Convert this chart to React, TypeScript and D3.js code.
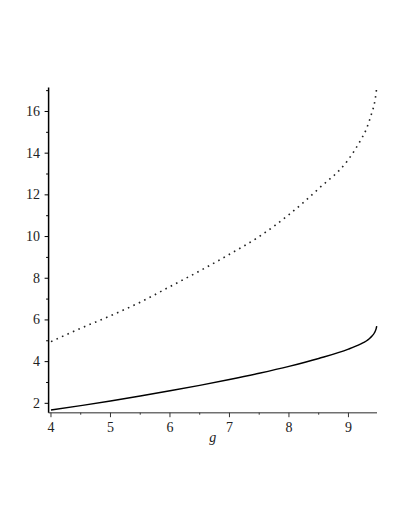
import React from "react";
import * as d3 from "d3";

const gValues = [4, 4.5, 5, 5.5, 6, 6.5, 7, 7.5, 8, 8.5, 9, 9.2, 9.3, 9.35, 9.4, 9.43, 9.45, 9.465, 9.475];
const solidValues = [1.68, 1.89, 2.11, 2.35, 2.6, 2.86, 3.14, 3.44, 3.77, 4.15, 4.6, 4.84, 4.99, 5.1, 5.24, 5.35, 5.46, 5.57, 5.7];
const dottedValues = [4.96, 5.6, 6.2, 6.85, 7.6, 8.35, 9.15, 10.0, 11.05, 12.3, 13.7, 14.6, 15.15, 15.55, 16.0, 16.3, 16.6, 16.9, 17.15];
const xTicks = [4, 5, 6, 7, 8, 9];
const xMinorTicks = [4.5, 5.5, 6.5, 7.5, 8.5];
const yTicks = [2, 4, 6, 8, 10, 12, 14, 16];
const yMinorTicks = [3, 5, 7, 9, 11, 13, 15, 17];
const xLabel = "g";

export default function App() {
  const x = d3.scaleLinear().domain([3.96, 9.48]).range([48.6, 377]);
  const y = d3.scaleLinear().domain([1.55, 17.15]).range([412.7, 87.5]);
  const line = d3
    .line<number>()
    .x((_, i) => x(gValues[i]))
    .y((d) => y(d))
    .curve(d3.curveMonotoneX);
  const font = "'Liberation Serif', 'Times New Roman', serif";
  const x0 = x(3.96);
  const yBase = y(1.55);
  return (
    <svg width={409} height={529} style={{ position: "absolute", left: 0, top: 0, background: "#fff" }}>
      <path d={line(solidValues) || ""} fill="none" stroke="#000" strokeWidth={1.4} />
      <path
        d={line(dottedValues) || ""}
        fill="none"
        stroke="#222"
        strokeWidth={1.6}
        strokeDasharray="1.6 4.4"
      />
      <line x1={x0} x2={x(9.48)} y1={yBase} y2={yBase} stroke="#707070" strokeWidth={1.6} />
      {xTicks.map((t) => (
        <g key={"xt" + t}>
          <line x1={x(t)} x2={x(t)} y1={yBase} y2={yBase + 4.5} stroke="#333" strokeWidth={1} />
          <text x={x(t)} y={432} textAnchor="middle" fontFamily={font} fontSize={14} fill="#222">
            {t}
          </text>
        </g>
      ))}
      {xMinorTicks.map((t) => (
        <line key={"xm" + t} x1={x(t)} x2={x(t)} y1={yBase} y2={yBase + 2} stroke="#333" strokeWidth={1} />
      ))}
      <text x={(x0 + x(9.48)) / 2} y={442} textAnchor="middle" fontFamily={font} fontStyle="italic" fontSize={14} fill="#222">
        {xLabel}
      </text>
      <line x1={x0} x2={x0} y1={y(17.15)} y2={yBase} stroke="#000" strokeWidth={1.5} />
      {yTicks.map((t) => (
        <g key={"yt" + t}>
          <line x1={x0 - 4} x2={x0} y1={y(t)} y2={y(t)} stroke="#000" strokeWidth={1} />
          <text x={40} y={y(t) + 4.5} textAnchor="end" fontFamily={font} fontSize={14} fill="#222">
            {t}
          </text>
        </g>
      ))}
      {yMinorTicks.map((t) => (
        <line key={"ym" + t} x1={x0 - 2.5} x2={x0} y1={y(t)} y2={y(t)} stroke="#000" strokeWidth={1} />
      ))}
    </svg>
  );
}
